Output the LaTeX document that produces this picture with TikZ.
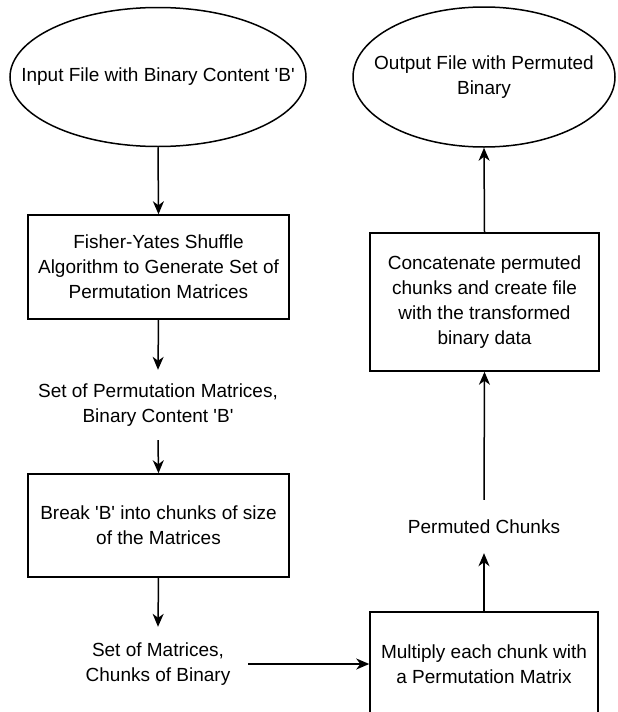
\documentclass[tikz,border=0pt]{standalone}
\usepackage{fontspec}
\setmainfont{Liberation Sans}
\usetikzlibrary{shapes.geometric,arrows.meta}
\newcommand{\sq}{\textquotesingle}
\begin{document}
\begin{tikzpicture}[x=1pt,y=-1pt,
  every node/.style={font=\fontsize{19}{25}\selectfont, align=center, inner sep=0pt},
  proc/.style={draw, line width=1.5pt, rectangle},
  term/.style={draw, line width=1.5pt, ellipse},
  lbl/.style={rectangle},
  flow/.style={line width=1.5pt, -{Stealth[length=13pt,width=11pt,inset=4pt]}}]
\clip (0,0) rectangle (618,712);
\node[term, minimum width=296pt, minimum height=139pt] (in) at (158,77) {};
\node[lbl] (intext) at (in.center) {Input File with Binary Content \sq B\sq};
\node[term, minimum width=262pt, minimum height=140pt] (out) at (484,77) {};
\node[lbl] (outtext) at (out.center) {Output File with Permuted\\Binary};
\node[proc, minimum width=261pt, minimum height=104pt] (fy) at (158.5,267) {Fisher-Yates Shuffle\\Algorithm to Generate Set of\\Permutation Matrices};
\node[lbl, minimum height=70pt] (l1) at (158,405) {Set of Permutation Matrices,\\Binary Content \sq B\sq};
\node[proc, minimum width=261pt, minimum height=103pt] (br) at (158.5,525.5) {Break \sq B\sq{} into chunks of size\\of the Matrices};
\node[lbl, minimum width=180pt, minimum height=74pt] (l2) at (158,664) {Set of Matrices,\\Chunks of Binary};
\node[proc, minimum width=228pt, minimum height=104pt] (mul) at (484,664) {Multiply each chunk with\\a Permutation Matrix};
\node[lbl, minimum height=53pt] (l3) at (484,526.5) {Permuted Chunks};
\node[proc, minimum width=229pt, minimum height=138pt] (cat) at (484.5,302) {Concatenate permuted\\chunks and create file\\with the transformed\\binary data};
\draw[flow] (in.south) -- (fy.north);
\draw[flow] (fy.south) -- (l1.north);
\draw[flow] (l1.south) -- (br.north);
\draw[flow] (br.south) -- (l2.north);
\draw[flow] (l2.east) -- (mul.west);
\draw[flow] (mul.north) -- (l3.south);
\draw[flow] (l3.north) -- (cat.south);
\draw[flow] (cat.north) -- (out.south);
\end{tikzpicture}
\end{document}
